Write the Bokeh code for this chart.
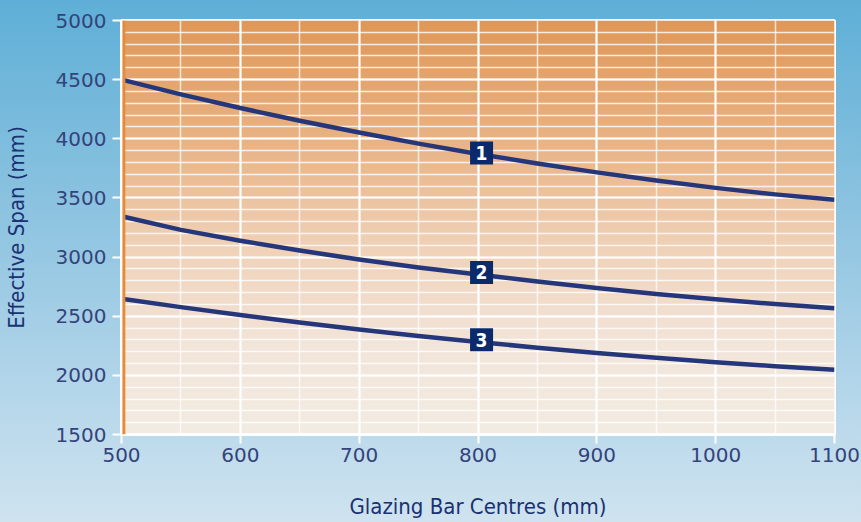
import numpy as np
from bokeh.plotting import figure
from bokeh.models import SingleIntervalTicker, Span, ColumnDataSource
from bokeh.core.properties import value
from bokeh.embed import file_html
from bokeh.resources import INLINE

# ---- data ----
bar_centres = [500, 550, 600, 650, 700, 750, 800, 850, 900, 950, 1000, 1050, 1100]
span_1 = [4500, 4375, 4260, 4153, 4053, 3959, 3872, 3791, 3716, 3647, 3585, 3530, 3485]
span_2 = [3345, 3230, 3138, 3055, 2980, 2912, 2852, 2793, 2738, 2688, 2643, 2603, 2568]
span_3 = [2647, 2577, 2510, 2447, 2388, 2333, 2282, 2234, 2189, 2148, 2111, 2077, 2047]
series_names = ["1", "2", "3"]
label_x = [803, 803, 803]
label_y = [3880, 2870, 2300]

X_MIN, X_MAX = 500, 1100
Y_MIN, Y_MAX = 1500, 5000

NAVY_LINE = "#25377a"
NAVY_BOX = "#0b2a6c"
TICK_COL = "#34437a"
LABEL_COL = "#1a3172"
COND_FONT = "'DejaVu Sans Condensed', 'Liberation Sans', sans-serif"

p = figure(width=861, height=522, x_range=(X_MIN, X_MAX), y_range=(Y_MIN, Y_MAX),
           output_backend="svg", toolbar_location=None,
           min_border_left=120, min_border_right=27, min_border_top=20, min_border_bottom=88)
p.styles = {"position": "fixed", "left": "0px", "top": "0px", "margin": "0px",
            "background": "linear-gradient(to bottom, #5eafd7 0%, #8cc3e0 40%, #b4d6ea 75%, #cfe3ef 100%)"}
p.border_fill_color = None
p.background_fill_color = None
p.outline_line_color = "white"
p.outline_line_width = 3

# frame gradient (orange -> cream)
stops_t = np.array([0.0, 0.3, 0.55, 0.78, 1.0])
stops_c = np.array([[224, 152, 88], [233, 180, 135], [240, 210, 184], [243, 229, 218], [242, 236, 226]])
n = 400
t = np.linspace(1.0, 0.0, n)  # row 0 = bottom
img = np.zeros((n, 1), dtype=np.uint32)
view = img.view(dtype=np.uint8).reshape((n, 1, 4))
for k in range(3):
    view[:, 0, k] = np.interp(t, stops_t, stops_c[:, k]).astype(np.uint8)
view[:, 0, 3] = 255
p.image_rgba(image=[img], x=X_MIN, y=Y_MIN, dw=X_MAX - X_MIN, dh=Y_MAX - Y_MIN, level="image")

# grids
p.xgrid.ticker = SingleIntervalTicker(interval=100, num_minor_ticks=2)
p.xgrid.grid_line_color = "white"
p.xgrid.grid_line_width = 2
p.xgrid.grid_line_alpha = 1.0
p.xgrid.minor_grid_line_color = "white"
p.xgrid.minor_grid_line_width = 1.5
p.xgrid.minor_grid_line_alpha = 0.75

p.ygrid.ticker = SingleIntervalTicker(interval=500, num_minor_ticks=5)
p.ygrid.grid_line_color = "white"
p.ygrid.grid_line_width = 2
p.ygrid.grid_line_alpha = 1.0
p.ygrid.minor_grid_line_color = "white"
p.ygrid.minor_grid_line_width = 1.5
p.ygrid.minor_grid_line_alpha = 0.8

# orange edge line
p.add_layout(Span(location=X_MIN + 2, dimension="height", line_color="#e48c3e", line_width=3))

# axes
p.xaxis.ticker = SingleIntervalTicker(interval=100)
p.yaxis.ticker = SingleIntervalTicker(interval=500)
for ax in (p.xaxis, p.yaxis):
    ax.axis_line_color = "white"
    ax.axis_line_width = 3
    ax.major_tick_line_color = "white"
    ax.major_tick_line_width = 2
    ax.major_tick_out = 9
    ax.major_tick_in = 0
    ax.minor_tick_line_color = None
    ax.major_label_text_font = "DejaVu Sans"
    ax.major_label_text_font_size = "20px"
    ax.major_label_text_color = TICK_COL
    ax.axis_label_text_font = COND_FONT
    ax.axis_label_text_font_size = "22px"
    ax.axis_label_text_font_style = "normal"
    ax.axis_label_text_color = LABEL_COL
p.xaxis.axis_label = "Glazing Bar Centres (mm)"
p.yaxis.axis_label = "Effective Span (mm)"
p.xaxis.major_label_standoff = 4
p.yaxis.major_label_standoff = 6
p.xaxis.axis_label_standoff = 29
p.yaxis.axis_label_standoff = 24

# curves
for ys in (span_1, span_2, span_3):
    p.line(bar_centres, ys, line_color=NAVY_LINE, line_width=4.5, line_join="round")

# numbered boxes
src = ColumnDataSource(dict(x=label_x, y=label_y, t=series_names))
p.rect(x="x", y="y", width=23, height=23, width_units="screen", height_units="screen",
       source=src, fill_color=NAVY_BOX, line_color=None)
p.text(x="x", y="y", text="t", source=src, text_color="white",
       text_font=value(COND_FONT), text_font_style="bold",
       text_font_size="19px", text_align="center", text_baseline="middle")

open("out.html", "w").write(file_html(p, INLINE))
